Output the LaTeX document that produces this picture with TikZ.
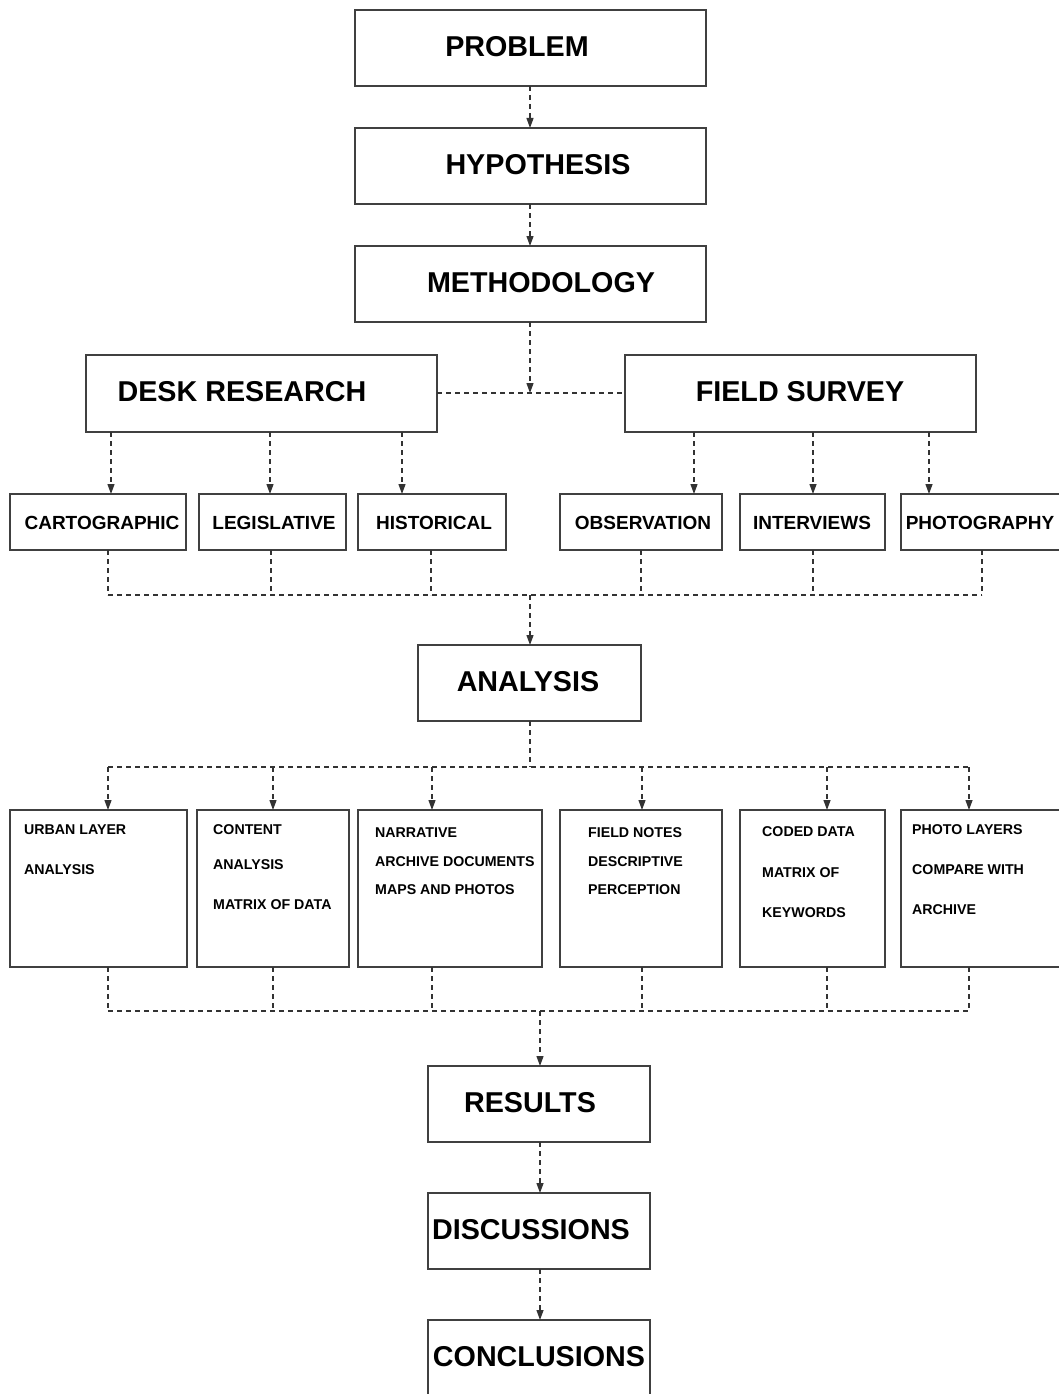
\documentclass[tikz,border=0pt]{standalone}
\usepackage{fontspec}
\setmainfont{Liberation Sans}
\usetikzlibrary{arrows.meta}
\newcommand\mkbox[5]{\node[box, minimum width={#4-#2}, minimum height={#5-#3}] (#1) at ({(#2+#4)/2},{(#3+#5)/2}) {};}
\begin{document}
\begin{tikzpicture}[x=1pt,y=-1pt,
 box/.style={draw=black!75, line width=1.3pt, inner sep=0, outer sep=0},
 conn/.style={draw=black!80, line width=1.2pt, dash pattern=on 5pt off 4pt, -{Triangle[width=7pt,length=10pt]}},
 dline/.style={draw=black!80, line width=1.2pt, dash pattern=on 5pt off 4pt},
 big/.style={font=\fontsize{28.7}{30}\selectfont\bfseries, inner sep=0},
 mid/.style={font=\fontsize{19}{21}\selectfont\bfseries, inner sep=0},
 small/.style={font=\fontsize{14.2}{16}\selectfont\bfseries, inner sep=0, anchor=west},
]
\useasboundingbox (0,0) rectangle (1059,1394);
\clip (0,0) rectangle (1059,1394);
% main chain
\mkbox{problem}{355}{10}{706}{86}
\node[big] (tproblem) at (517,47) {PROBLEM};
\mkbox{hyp}{355}{128}{706}{204}
\node[big] (thyp) at (538,165) {HYPOTHESIS};
\mkbox{meth}{355}{246}{706}{322}
\node[big] (tmeth) at (541,283) {METHODOLOGY};
\mkbox{desk}{86}{355}{437}{432}
\node[big] (tdesk) at (242,392) {DESK RESEARCH};
\mkbox{field}{625}{355}{976}{432}
\node[big] (tfield) at (800,392) {FIELD SURVEY};
\coordinate (cx) at (530,0);
\draw[conn] (problem.south -| cx) -- (hyp.north -| cx);
\draw[conn] (hyp.south -| cx) -- (meth.north -| cx);
\coordinate (m0) at (530,393);
\draw[dline] (desk.east |- m0) -- (field.west |- m0);
\draw[conn] (meth.south -| m0) -- (m0);
% row 2
\mkbox{cart}{10}{494}{186}{550}
\node[mid] (tcart) at (102,523) {CARTOGRAPHIC};
\mkbox{legis}{199}{494}{346}{550}
\node[mid] (tlegis) at (274,523) {LEGISLATIVE};
\mkbox{hist}{358}{494}{506}{550}
\node[mid] (thist) at (434,523) {HISTORICAL};
\mkbox{obs}{560}{494}{722}{550}
\node[mid] (tobs) at (643,523) {OBSERVATION};
\mkbox{inter}{740}{494}{885}{550}
\node[mid] (tinter) at (812,523) {INTERVIEWS};
\mkbox{photo}{901}{494}{1064}{550}
\node[mid] (tphoto) at (980,523) {PHOTOGRAPHY};
\coordinate (d1) at (111,0);
\coordinate (d2) at (270,0);
\coordinate (d3) at (402,0);
\coordinate (f1) at (694,0);
\coordinate (f2) at (813,0);
\coordinate (f3) at (929,0);
\draw[conn] (desk.south -| d1) -- (cart.north -| d1);
\draw[conn] (desk.south -| d2) -- (legis.north -| d2);
\draw[conn] (desk.south -| d3) -- (hist.north -| d3);
\draw[conn] (field.south -| f1) -- (obs.north -| f1);
\draw[conn] (field.south -| f2) -- (inter.north -| f2);
\draw[conn] (field.south -| f3) -- (photo.north -| f3);
% join 1
\coordinate (b1) at (108,595);
\coordinate (b2) at (271,595);
\coordinate (b3) at (431,595);
\coordinate (b4) at (641,595);
\coordinate (b5) at (813,595);
\coordinate (b6) at (982,595);
\coordinate (j1) at (530,595);
\draw[dline] (cart.south -| b1) -- (b1);
\draw[dline] (legis.south -| b2) -- (b2);
\draw[dline] (hist.south -| b3) -- (b3);
\draw[dline] (obs.south -| b4) -- (b4);
\draw[dline] (inter.south -| b5) -- (b5);
\draw[dline] (photo.south -| b6) -- (b6);
\draw[dline] (b1) -- (b6);
% analysis
\mkbox{anal}{418}{645}{641}{721}
\node[big] (tanal) at (528,682) {ANALYSIS};
\draw[conn] (j1) -- (anal.north -| j1);
\coordinate (j2) at (530,767);
\coordinate (c1) at (108,767);
\coordinate (c2) at (273,767);
\coordinate (c3) at (432,767);
\coordinate (c4) at (642,767);
\coordinate (c5) at (827,767);
\coordinate (c6) at (969,767);
\draw[dline] (anal.south -| j2) -- (j2);
\draw[dline] (c1) -- (c6);
% row 3
\mkbox{r1}{10}{810}{187}{967}
\mkbox{r2}{197}{810}{349}{967}
\mkbox{r3}{358}{810}{542}{967}
\mkbox{r4}{560}{810}{722}{967}
\mkbox{r5}{740}{810}{885}{967}
\mkbox{r6}{901}{810}{1064}{967}
\draw[conn] (c1) -- (r1.north -| c1);
\draw[conn] (c2) -- (r2.north -| c2);
\draw[conn] (c3) -- (r3.north -| c3);
\draw[conn] (c4) -- (r4.north -| c4);
\draw[conn] (c5) -- (r5.north -| c5);
\draw[conn] (c6) -- (r6.north -| c6);
\node[small] (t1a) at (24,830) {URBAN LAYER};
\node[small] (t1b) at (24,870) {ANALYSIS};
\node[small] (t2a) at (213,830) {CONTENT};
\node[small] (t2b) at (213,865) {ANALYSIS};
\node[small] (t2c) at (213,905) {MATRIX OF DATA};
\node[small] (t3a) at (375,833) {NARRATIVE};
\node[small] (t3b) at (375,862) {ARCHIVE DOCUMENTS};
\node[small] (t3c) at (375,890) {MAPS AND PHOTOS};
\node[small] (t4a) at (588,833) {FIELD NOTES};
\node[small] (t4b) at (588,862) {DESCRIPTIVE};
\node[small] (t4c) at (588,890) {PERCEPTION};
\node[small] (t5a) at (762,832) {CODED DATA};
\node[small] (t5b) at (762,873) {MATRIX OF};
\node[small] (t5c) at (762,913) {KEYWORDS};
\node[small] (t6a) at (912,830) {PHOTO LAYERS};
\node[small] (t6b) at (912,870) {COMPARE WITH};
\node[small] (t6c) at (912,910) {ARCHIVE};
% join 2
\coordinate (e1) at (108,1011);
\coordinate (e2) at (273,1011);
\coordinate (e3) at (432,1011);
\coordinate (e4) at (642,1011);
\coordinate (e5) at (827,1011);
\coordinate (e6) at (969,1011);
\coordinate (j3) at (540,1011);
\draw[dline] (r1.south -| e1) -- (e1);
\draw[dline] (r2.south -| e2) -- (e2);
\draw[dline] (r3.south -| e3) -- (e3);
\draw[dline] (r4.south -| e4) -- (e4);
\draw[dline] (r5.south -| e5) -- (e5);
\draw[dline] (r6.south -| e6) -- (e6);
\draw[dline] (e1) -- (e6);
% bottom chain
\mkbox{res}{428}{1066}{650}{1142}
\node[big] (tres) at (530,1103) {RESULTS};
\mkbox{disc}{428}{1193}{650}{1269}
\node[big] (tdisc) at (531,1230) {DISCUSSIONS};
\mkbox{conc}{428}{1320}{650}{1420}
\node[big] (tconc) at (539,1357) {CONCLUSIONS};
\coordinate (cy) at (540,0);
\draw[conn] (j3) -- (res.north -| j3);
\draw[conn] (res.south -| cy) -- (disc.north -| cy);
\draw[conn] (disc.south -| cy) -- (conc.north -| cy);
\end{tikzpicture}
\end{document}
